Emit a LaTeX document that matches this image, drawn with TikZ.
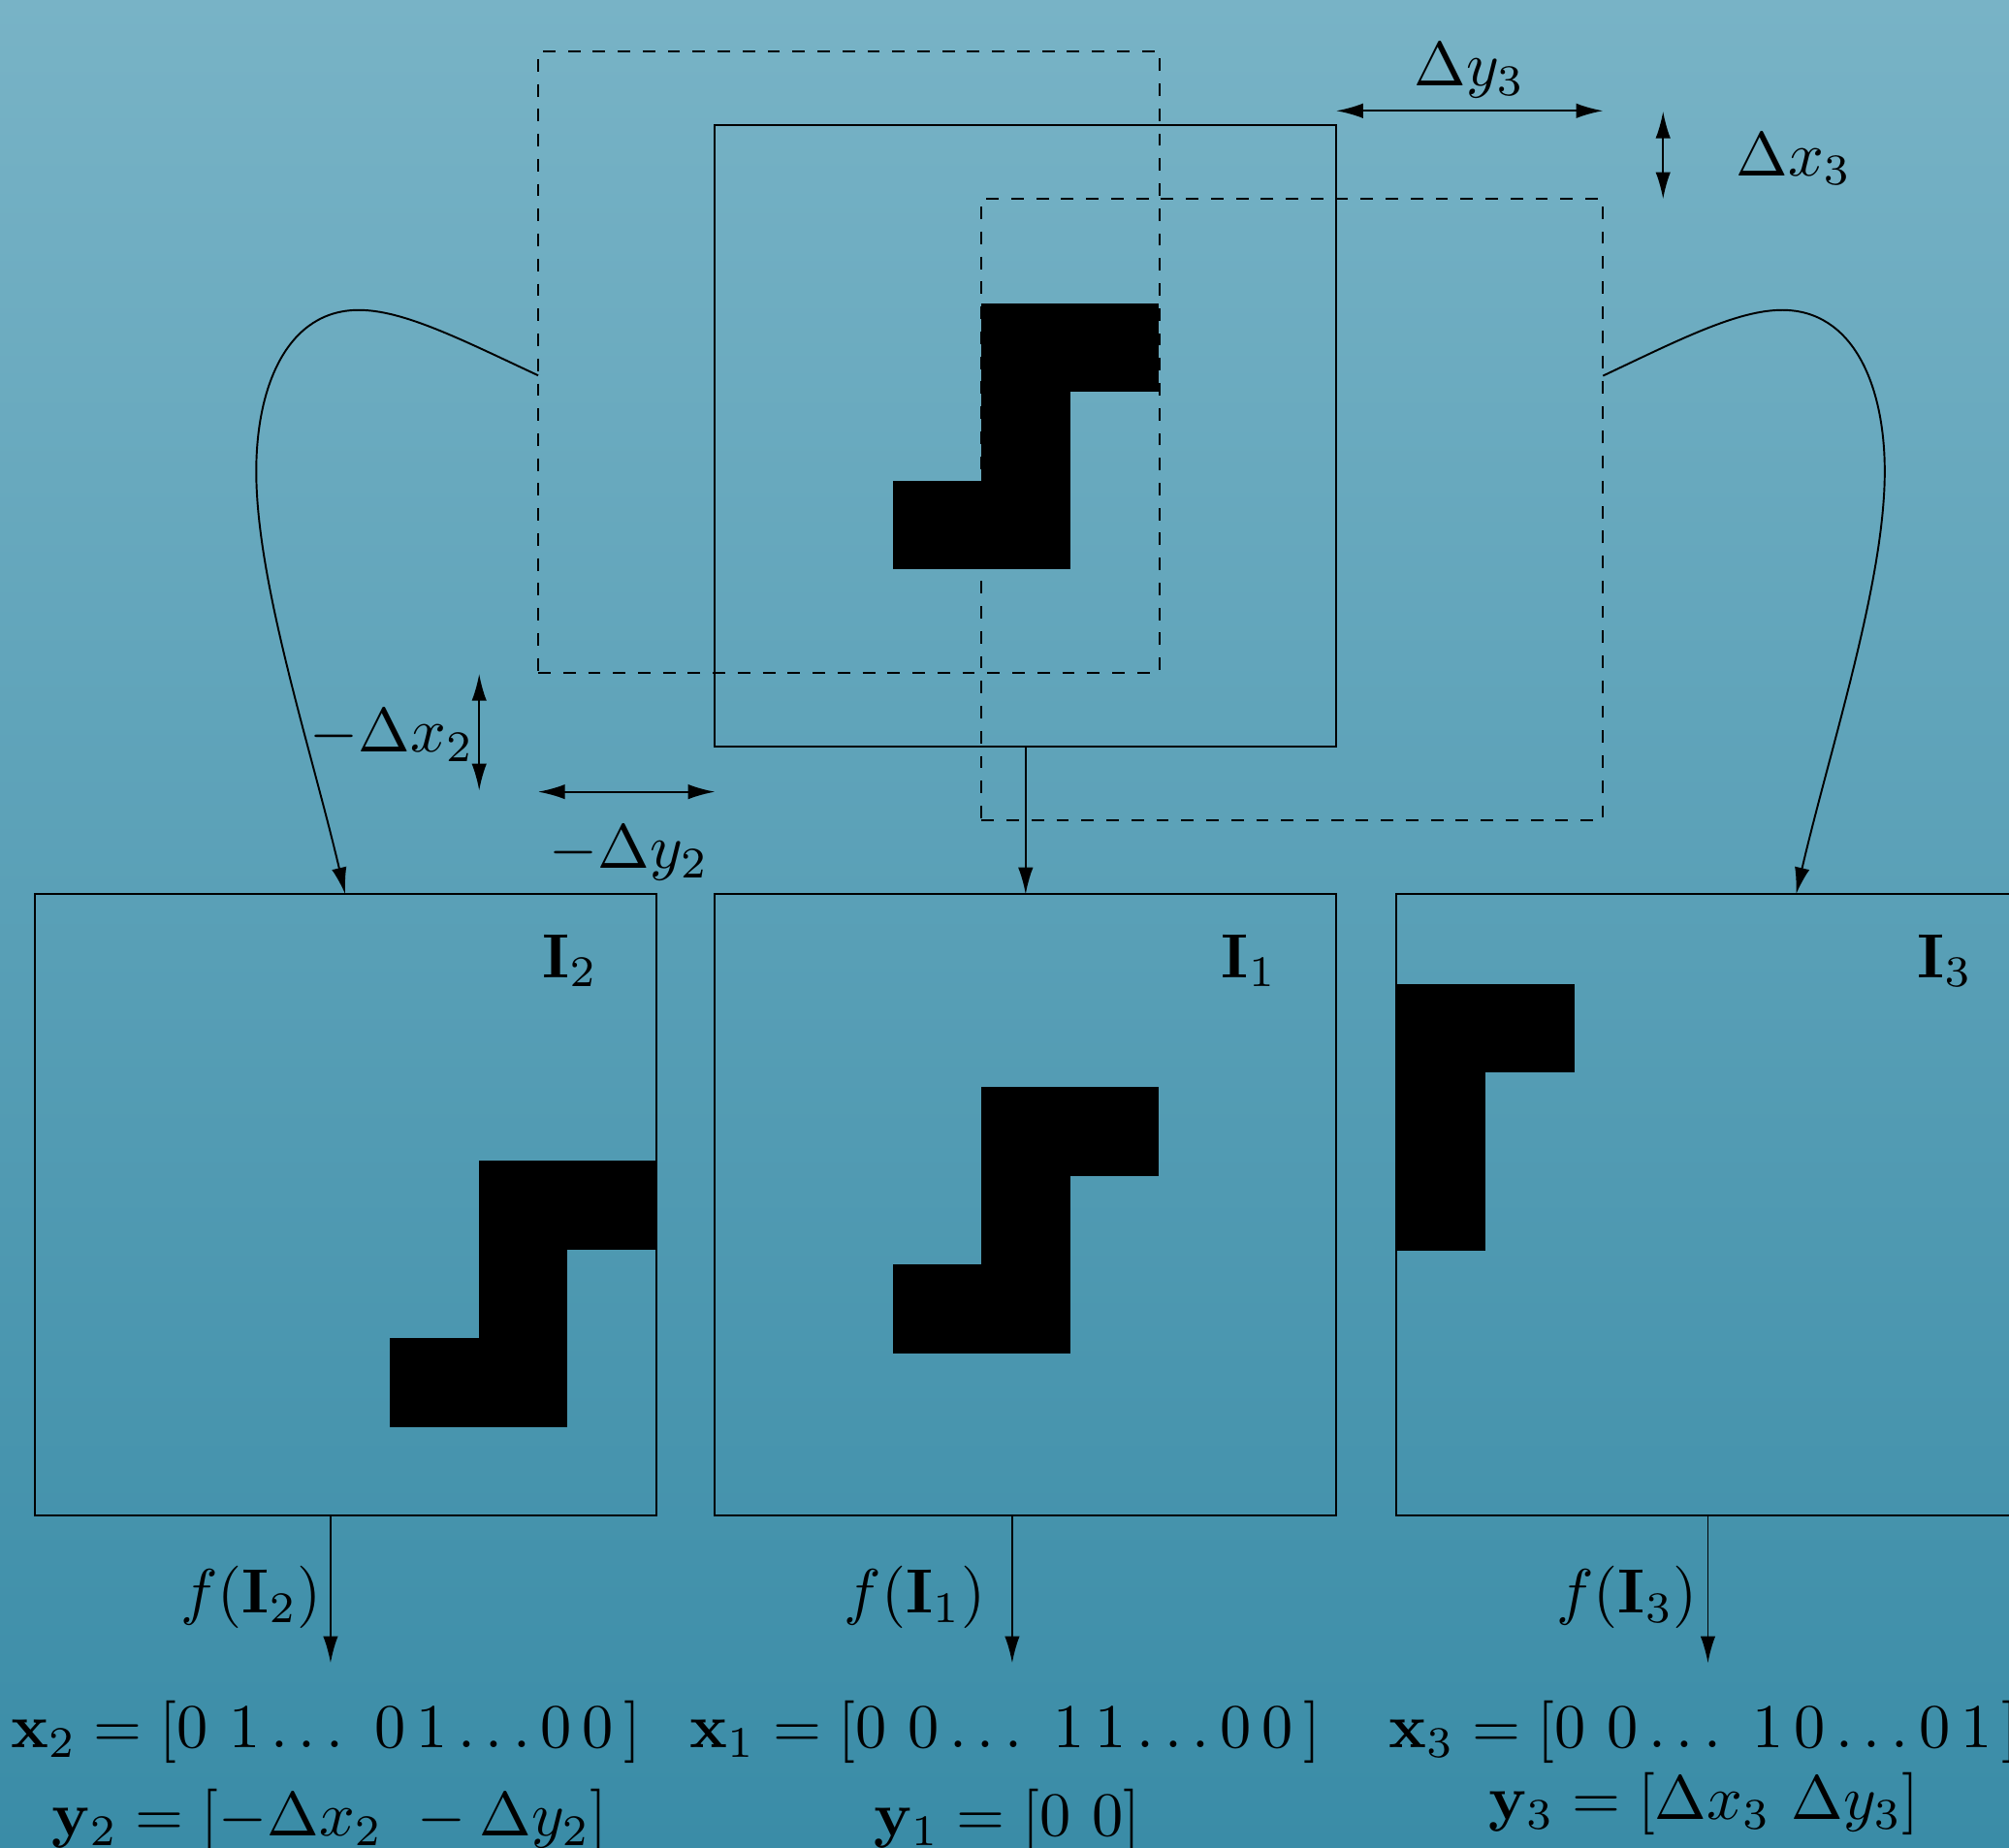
\documentclass[tikz,border=0pt]{standalone}
\usetikzlibrary{arrows.meta,calc}
\definecolor{bgtop}{RGB}{120,179,198}
\definecolor{bgbot}{RGB}{58,140,167}
\tikzset{
  pics/sshape/.style={code={
    \fill (0,0) rectangle +(69.3,69.3);
    \fill (69.3,0) rectangle +(69.3,69.3);
    \fill (0,69.3) rectangle +(69.3,69.3);
    \fill (-69.3,138.6) rectangle +(69.3,69.3);
    \fill (0,138.6) rectangle +(69.3,69.3);
  }}
}
\begin{document}
\begin{tikzpicture}[x=0.007215cm, y=-0.007215cm, line width=0.3pt,
  box/.style={draw, minimum width=3.5cm, minimum height=3.5cm, inner sep=0pt, outer sep=0pt},
  dbox/.style={box, dash pattern=on 2pt off 2pt},
  lbl/.style={inner sep=0pt},
  >={Latex[length=4.3pt,width=2.4pt]}]
\useasboundingbox (0,0) rectangle (1568,1442);
\clip (0,0) rectangle (1568,1442);
\shade[top color=bgtop, bottom color=bgbot] (0,0) rectangle (1568,1442);

% top row boxes
\node[box] (top) at (800.5,340) {};
\pic at (765.9,236.6) {sshape};
\node[dbox] (dl) at (662.5,282.5) {};
\node[dbox] (dr) at (1008.6,397.8) {};

% bottom boxes
\node[box] (b2) at (269.5,940.5) {};
\node[box] (b1) at (800.5,940.5) {};
\node[box] (b3) at (1332.5,940.5) {};
\pic at (373.5,905.9) {sshape};
\pic at (765.9,848.3) {sshape};
\begin{scope}
  \clip (b3.north west) rectangle (b3.south east);
  \pic at (1090,768) {sshape};
\end{scope}

\node[lbl] (l2) at (445,750) {$\mathbf{I}_2$};
\node[lbl] (l1) at (975,750) {$\mathbf{I}_1$};
\node[lbl] (l3) at (1518,750) {$\mathbf{I}_3$};

% connectors
\draw[->] (top.south) -- (b1.north);
\draw[->] ([yshift=-0.076cm]dl.west) .. controls (360,265) and (315,242) .. (280,242)
  .. controls (225,242) and (200,300) .. (200,368)
  .. controls (200,455) and (243,585) .. (b2.north);
\draw[->] ([yshift=0.754cm]dr.east) .. controls (1311,265) and (1356,242) .. (1391,242)
  .. controls (1446,242) and (1471,300) .. (1471,368)
  .. controls (1471,455) and (1428,585) .. ([xshift=0.5cm]b3.north);

% displacement arrows
\coordinate (dx2a) at (374,526);
\coordinate (dx2b) at (374,617);
\draw[<->] (dx2a) -- (dx2b);
\coordinate (dy2) at (0,618);
\draw[<->] (dl.west |- dy2) -- (top.west |- dy2);
\coordinate (dy3) at (0,86.5);
\draw[<->] (top.east |- dy3) -- (dr.east |- dy3);
\coordinate (dx3a) at (1298,87);
\draw[<->] (dx3a) -- (dx3a |- dr.north);

\node (ldx2) at (306,574) {$-\Delta x_2$};
\node (ldy2) at (491,666) {$-\Delta y_2$};
\node (ldy3) at (1147,55) {$\Delta y_3$};
\node (ldx3) at (1400,124) {$\Delta x_3$};

% outputs
\coordinate (e2) at (258,1298);
\coordinate (e1) at (790,1298);
\coordinate (e3) at (1333,1298);
\draw[->] (b2.south -| e2) -- (e2);
\draw[->] (b1.south -| e1) -- (e1);
\draw[->] (b3.south -| e3) -- (e3);
\node (f2) at (196,1247) {$f(\mathbf{I}_2)$};
\node (f1) at (714,1247) {$f(\mathbf{I}_1)$};
\node (f3) at (1270,1247) {$f(\mathbf{I}_3)$};

\node[anchor=base] (x2) at (254.5,1364) {$\mathbf{x}_2 = [0\ 1\ldots\ 0\,1\ldots0\,0\,]$};
\node[anchor=base] (y2) at (257.5,1433) {$\mathbf{y}_2 = [-\Delta x_2\ -\Delta y_2]$};
\node[anchor=base] (x1) at (784.5,1364) {$\mathbf{x}_1 = [0\ 0\ldots\ 1\,1\ldots0\,0\,]$};
\node[anchor=base] (y1) at (786,1433) {$\mathbf{y}_1 = [0\ 0]$};
\node[anchor=base] (x3) at (1330,1364) {$\mathbf{x}_3 = [0\ 0\ldots\ 1\,0\ldots0\,1\,]$};
\node[anchor=base] (y3) at (1330,1420) {$\mathbf{y}_3 = [\Delta x_3\ \Delta y_3]$};
\end{tikzpicture}
\end{document}
